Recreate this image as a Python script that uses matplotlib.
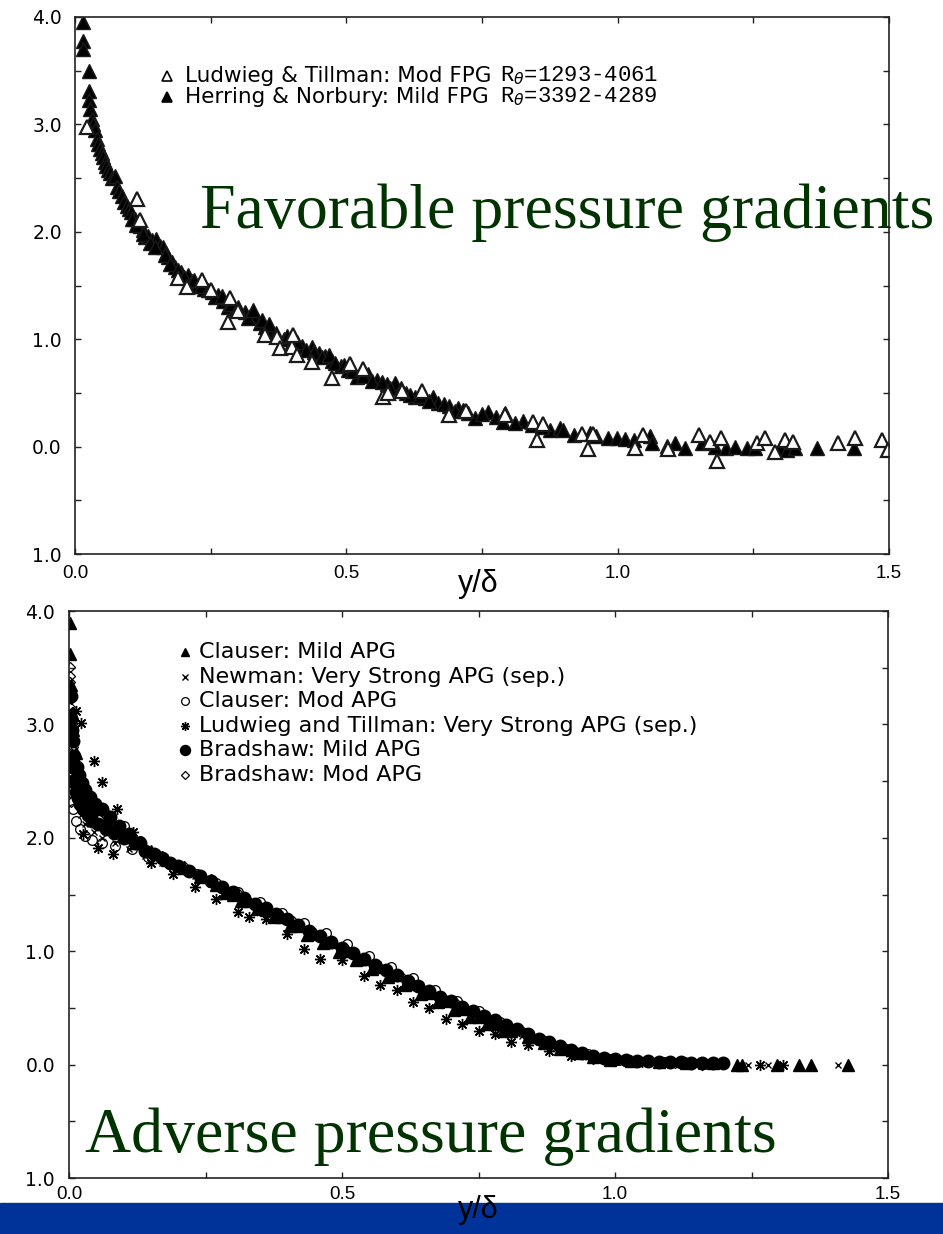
import numpy as np
import matplotlib.pyplot as plt
from matplotlib.patches import Rectangle

# ---- top panel: favorable pressure gradients ----
lt_fpg_x = [0.023, 0.114, 0.120, 0.190, 0.206, 0.234, 0.250, 0.286, 0.282, 0.300,
            0.350, 0.372, 0.378, 0.400, 0.402, 0.410, 0.437, 0.474, 0.507, 0.530,
            0.567, 0.577, 0.603, 0.640, 0.690, 0.720, 0.792, 0.844, 0.862, 0.851,
            0.934, 0.945, 0.955, 1.032, 1.047, 1.093, 1.150, 1.170, 1.183, 1.190,
            1.257, 1.271, 1.290, 1.308, 1.323, 1.406, 1.437, 1.487, 1.498]
lt_fpg_y = [2.98, 2.31, 2.11, 1.57, 1.49, 1.55, 1.46, 1.38, 1.16, 1.26,
            1.04, 1.02, 0.92, 0.93, 1.04, 0.85, 0.79, 0.64, 0.77, 0.72,
            0.46, 0.50, 0.52, 0.52, 0.29, 0.33, 0.29, 0.23, 0.21, 0.06,
            0.12, -0.02, 0.12, -0.01, 0.11, -0.02, 0.11, 0.04, -0.13, 0.08,
            0.03, 0.08, -0.05, 0.06, 0.04, 0.03, 0.08, 0.06, -0.03]

hn_fpg_x = [0.014, 0.014, 0.014, 0.025, 0.025, 0.026, 0.028, 0.031, 0.034, 0.037,
            0.040, 0.043, 0.046, 0.049, 0.052, 0.055, 0.058, 0.061, 0.064, 0.069,
            0.074, 0.077, 0.082, 0.086, 0.090, 0.095, 0.099, 0.104, 0.110, 0.115,
            0.120, 0.126, 0.129, 0.135, 0.142, 0.150, 0.156, 0.162, 0.168, 0.171,
            0.178, 0.184, 0.195, 0.208, 0.215, 0.225, 0.238, 0.252, 0.264, 0.272,
            0.282, 0.295, 0.313, 0.322, 0.332, 0.340, 0.350, 0.362, 0.385, 0.400,
            0.418, 0.437, 0.450, 0.460, 0.474, 0.490, 0.503, 0.520, 0.540, 0.556,
            0.575, 0.590, 0.610, 0.627, 0.645, 0.660, 0.669, 0.690, 0.706, 0.725,
            0.737, 0.761, 0.775, 0.792, 0.789, 0.826, 0.842, 0.875, 0.894, 0.900,
            0.949, 0.982, 0.998, 1.013, 1.060, 1.063, 1.090, 1.105, 1.124, 1.155,
            1.179, 1.200, 1.216, 1.238, 1.253, 1.299, 1.312, 1.327, 1.367, 1.435,
            0.105, 0.113, 0.125, 0.138, 0.147, 0.165, 0.175, 0.190, 0.200, 0.220,
            0.232, 0.245, 0.258, 0.270, 0.288, 0.300, 0.318, 0.328, 0.345, 0.357,
            0.370, 0.390, 0.410, 0.425, 0.440, 0.455, 0.468, 0.480, 0.495, 0.510,
            0.530, 0.548, 0.565, 0.580, 0.600, 0.618, 0.635, 0.653, 0.680, 0.700,
            0.715, 0.750, 0.810, 0.860, 0.920, 0.960, 1.030]
hn_fpg_y = [3.95, 3.78, 3.70, 3.50, 3.31, 3.23, 3.14, 3.05, 3.00, 2.95,
            2.86, 2.82, 2.77, 2.73, 2.70, 2.65, 2.61, 2.58, 2.55, 2.50,
            2.52, 2.42, 2.38, 2.33, 2.28, 2.24, 2.21, 2.18, 2.12, 2.08,
            2.05, 2.02, 1.95, 1.96, 1.92, 1.93, 1.87, 1.86, 1.80, 1.77,
            1.72, 1.67, 1.63, 1.60, 1.54, 1.50, 1.47, 1.44, 1.41, 1.36,
            1.30, 1.28, 1.25, 1.22, 1.21, 1.15, 1.11, 1.08, 1.00, 0.97,
            0.94, 0.93, 0.87, 0.84, 0.80, 0.75, 0.71, 0.65, 0.68, 0.62,
            0.58, 0.59, 0.50, 0.46, 0.45, 0.46, 0.41, 0.38, 0.36, 0.31,
            0.27, 0.32, 0.28, 0.31, 0.23, 0.24, 0.20, 0.15, 0.17, 0.15,
            0.13, 0.08, 0.08, 0.07, 0.10, 0.03, 0.01, 0.03, -0.01, 0.03,
            0.00, -0.01, 0.00, -0.01, -0.01, -0.01, -0.03, -0.01, -0.01, -0.01,
            2.12, 2.06, 1.98, 1.90, 1.86, 1.78, 1.70, 1.64, 1.58, 1.55,
            1.50, 1.46, 1.39, 1.40, 1.33, 1.30, 1.20, 1.27, 1.18, 1.14,
            1.06, 1.03, 0.97, 0.90, 0.88, 0.83, 0.85, 0.78, 0.76, 0.70,
            0.66, 0.61, 0.60, 0.55, 0.55, 0.48, 0.47, 0.42, 0.40, 0.33,
            0.34, 0.30, 0.22, 0.18, 0.11, 0.10, 0.06]

# ---- bottom panel: adverse pressure gradients ----
cl_mild_x = [0.002, 0.002, 0.004, 0.006, 0.008, 0.012, 0.018, 0.025, 0.035, 0.05,
             0.07, 0.09, 0.12, 0.15, 0.18, 0.21, 0.24, 0.27, 0.30, 0.33,
             0.36, 0.39, 0.42, 0.45, 0.48, 0.51, 0.54, 0.57, 0.60, 0.63,
             0.66, 0.69, 0.72, 0.75, 0.78, 0.81, 0.84, 0.87, 0.90, 0.93,
             0.96, 0.99, 1.03, 1.08, 1.13, 1.18, 1.223, 1.232, 1.296, 1.337,
             1.359, 1.427, 0.285, 0.315, 0.345, 0.375, 0.405, 0.435, 0.465, 0.495,
             0.525, 0.555, 0.585, 0.615, 0.645, 0.675, 0.705, 0.735, 0.765, 0.795]
cl_mild_y = [3.89, 3.62, 3.35, 3.10, 2.95, 2.75, 2.60, 2.48, 2.38, 2.25,
             2.15, 2.08, 1.95, 1.88, 1.80, 1.73, 1.65, 1.58, 1.50, 1.44,
             1.36, 1.30, 1.22, 1.15, 1.08, 1.00, 0.93, 0.86, 0.79, 0.71,
             0.63, 0.56, 0.49, 0.42, 0.36, 0.30, 0.24, 0.19, 0.14, 0.10,
             0.07, 0.04, 0.03, 0.02, 0.01, 0.01, 0.00, 0.00, 0.00, 0.00,
             0.00, 0.00, 1.51, 1.44, 1.37, 1.30, 1.22, 1.14, 1.07, 0.99,
             0.92, 0.84, 0.77, 0.70, 0.62, 0.55, 0.48, 0.42, 0.36, 0.30]

newman_x = [0.003, 0.006, 0.01, 0.015, 0.022, 0.03, 0.045, 0.06, 0.085, 0.11,
            0.14, 0.17, 0.20, 0.23, 0.26, 0.29, 0.32, 0.35, 0.38, 0.41,
            0.44, 0.47, 0.50, 0.53, 0.56, 0.59, 0.62, 0.65, 0.68, 0.71,
            0.74, 0.77, 0.80, 0.83, 0.86, 0.89, 0.92, 0.95, 0.98, 1.02,
            1.06, 1.10, 1.15, 1.20, 1.244, 1.28, 1.408,
            0.004, 0.008, 0.012, 0.018, 0.026, 0.036, 0.052, 0.07]
newman_y = [3.00, 2.70, 2.45, 2.30, 2.20, 2.12, 2.05, 2.00, 1.95, 1.90,
            1.84, 1.78, 1.72, 1.66, 1.59, 1.52, 1.45, 1.38, 1.30, 1.23,
            1.16, 1.08, 1.00, 0.93, 0.86, 0.78, 0.71, 0.64, 0.57, 0.50,
            0.44, 0.37, 0.31, 0.25, 0.20, 0.15, 0.11, 0.07, 0.05, 0.03,
            0.02, 0.01, 0.01, 0.00, 0.00, 0.00, 0.00,
            2.85, 2.55, 2.40, 2.62, 2.50, 2.35, 2.28, 2.20]

cl_mod_x = [0.002, 0.005, 0.01, 0.016, 0.024, 0.035, 0.05, 0.07, 0.10, 0.13,
            0.16, 0.20, 0.234, 0.27, 0.31, 0.35, 0.39, 0.43, 0.47, 0.51,
            0.55, 0.59, 0.63, 0.67, 0.71, 0.75, 0.79, 0.83, 0.87, 0.91,
            0.95, 0.99, 1.04, 1.09, 1.14,
            0.003, 0.007, 0.013, 0.02, 0.03, 0.042, 0.06, 0.085, 0.115, 0.145]
cl_mod_y = [3.30, 2.95, 2.70, 2.55, 2.45, 2.35, 2.30, 2.20, 2.10, 1.97,
            1.86, 1.76, 1.68, 1.60, 1.52, 1.43, 1.34, 1.25, 1.16, 1.06,
            0.96, 0.86, 0.76, 0.66, 0.56, 0.47, 0.38, 0.29, 0.21, 0.14,
            0.09, 0.05, 0.03, 0.02, 0.01,
            2.40, 2.25, 2.15, 2.08, 2.02, 1.98, 1.95, 1.93, 1.90, 1.83]

lt_apg_x = [0.013, 0.022, 0.026, 0.045, 0.054, 0.06, 0.08, 0.087, 0.117, 0.15,
            0.19, 0.23, 0.27, 0.31, 0.33, 0.36, 0.40, 0.43, 0.46, 0.50,
            0.54, 0.57, 0.60, 0.63, 0.66, 0.69, 0.72, 0.75, 0.78, 0.81,
            0.84, 0.88, 0.92, 0.96, 1.00, 1.05, 1.10, 1.16, 1.266, 1.308]
lt_apg_y = [3.12, 3.01, 2.03, 2.68, 1.91, 2.49, 1.86, 2.25, 2.05, 1.78,
            1.68, 1.57, 1.46, 1.35, 1.30, 1.28, 1.15, 1.02, 0.93, 0.92,
            0.78, 0.70, 0.66, 0.55, 0.50, 0.40, 0.36, 0.30, 0.27, 0.20,
            0.17, 0.12, 0.08, 0.05, 0.03, 0.02, 0.01, 0.00, 0.00, 0.00]

br_mild_x = [0.003, 0.004, 0.005, 0.006, 0.007, 0.008, 0.010, 0.012, 0.014, 0.016,
             0.018, 0.020, 0.023, 0.026, 0.030, 0.034, 0.038, 0.043, 0.048, 0.054,
             0.060, 0.067, 0.075, 0.083, 0.092, 0.100, 0.110, 0.120, 0.130, 0.140,
             0.155, 0.170, 0.185, 0.200, 0.220, 0.240, 0.260, 0.280, 0.300, 0.320,
             0.340, 0.360, 0.380, 0.400, 0.420, 0.440, 0.460, 0.480, 0.500, 0.520,
             0.540, 0.560, 0.580, 0.600, 0.620, 0.640, 0.660, 0.680, 0.700, 0.720,
             0.740, 0.760, 0.780, 0.800, 0.820, 0.840, 0.860, 0.880, 0.900, 0.920,
             0.940, 0.960, 0.980, 1.000, 1.020, 1.040, 1.060, 1.080, 1.100, 1.120,
             1.140, 1.160, 1.180, 1.198]
br_mild_y = [3.25, 3.05, 2.95, 2.62, 2.85, 2.50, 2.72, 2.40, 2.62, 2.35,
             2.55, 2.30, 2.48, 2.25, 2.42, 2.20, 2.36, 2.15, 2.30, 2.12,
             2.25, 2.08, 2.18, 2.04, 2.10, 2.00, 2.03, 1.95, 1.95, 1.88,
             1.86, 1.82, 1.78, 1.75, 1.71, 1.66, 1.62, 1.57, 1.52, 1.47,
             1.42, 1.38, 1.33, 1.28, 1.23, 1.18, 1.13, 1.08, 1.03, 0.98,
             0.93, 0.88, 0.83, 0.79, 0.74, 0.69, 0.65, 0.60, 0.56, 0.51,
             0.47, 0.43, 0.39, 0.35, 0.31, 0.27, 0.23, 0.20, 0.16, 0.13,
             0.10, 0.08, 0.06, 0.05, 0.04, 0.03, 0.03, 0.02, 0.02, 0.02,
             0.01, 0.01, 0.01, 0.01]

br_mod_x = [0.002, 0.002, 0.002, 0.003, 0.003, 0.004, 0.005, 0.006, 0.008, 0.01,
            0.013, 0.017, 0.022, 0.03, 0.04, 0.055, 0.075, 0.10, 0.13, 0.17,
            0.21, 0.26, 0.31, 0.36, 0.41, 0.46, 0.51, 0.56, 0.61, 0.66,
            0.71, 0.76, 0.81, 0.86, 0.91, 0.96, 1.01, 1.06, 1.11, 1.16,
            1.198, 0.002, 0.002, 0.003, 0.003, 0.004, 0.004]
br_mod_y = [3.51, 3.43, 3.37, 3.30, 3.22, 3.10, 3.00, 2.90, 2.80, 2.70,
            2.60, 2.50, 2.40, 2.32, 2.25, 2.17, 2.10, 2.02, 1.93, 1.84,
            1.75, 1.64, 1.51, 1.39, 1.27, 1.14, 1.01, 0.89, 0.77, 0.65,
            0.53, 0.42, 0.32, 0.22, 0.14, 0.08, 0.04, 0.02, 0.01, 0.01,
            0.01, 3.15, 2.95, 2.75, 2.58, 2.45, 2.32]

x_ticks = [0.0, 0.5, 1.0, 1.5]
x_tick_labels = ['0.0', '0.5', '1.0', '1.5']
y_ticks = [-1, 0, 1, 2, 3, 4]
y_tick_labels = ['1.0', '0.0', '1.0', '2.0', '3.0', '4.0']

W, H = 943, 1234
GREEN = '#003300'


def box(left, top, right, bottom):
    # pixel box -> figure fraction
    return [left / W, 1 - bottom / H, (right - left) / W, (bottom - top) / H]


def style(ax, ypad, xpad):
    ax.set_xlim(0, 1.5)
    ax.set_ylim(-1, 4)
    ax.set_xticks(x_ticks)
    ax.set_xticklabels(x_tick_labels, family='Liberation Sans', fontsize=13.5)
    ax.set_xticks([0.25, 0.75, 1.25], minor=True)
    ax.set_yticks(y_ticks)
    ax.set_yticklabels(y_tick_labels, family='DejaVu Sans', fontsize=13.5)
    ax.set_yticks([-0.5, 0.5, 1.5, 2.5, 3.5], minor=True)
    ax.tick_params(which='both', direction='in', top=True, right=True,
                   length=4.5, width=1, color='#222222')
    ax.tick_params(axis='y', pad=ypad)
    ax.tick_params(axis='x', pad=xpad)
    for s in ax.spines.values():
        s.set_linewidth(1.2)
        s.set_color('#222222')


fig = plt.figure(figsize=(W / 100, H / 100), dpi=100)
fig.patches.append(Rectangle((0, 0), 1, (H - 1203) / H, transform=fig.transFigure,
                             color='#003399', zorder=0))

# top panel
ax1 = fig.add_axes(box(75, 17, 889, 554))
style(ax1, 9.5, 8)
ax1.plot(hn_fpg_x, hn_fpg_y, ls='none', marker='^', ms=10, color='black', mec='#1a1a1a')
ax1.plot(lt_fpg_x, lt_fpg_y, ls='none', marker='^', ms=10, mfc='white', mec='#1a1a1a', mew=1.6)

top_leg = [('^', 'white', 'Ludwieg & Tillman: Mod FPG', r'R$_\theta$=1293-4061'),
           ('^', 'black', 'Herring & Norbury: Mild FPG', r'R$_\theta$=3392-4289')]
for i, (m, fc, lab, re) in enumerate(top_leg):
    yy = 76 + 21 * i
    ax1.plot([(167 - 75) / 814], [1 - (yy - 17) / 537], transform=ax1.transAxes,
             marker=m, ms=7, mfc=fc, mec='black', mew=1.2, clip_on=False)
    fig.text(185 / W, 1 - yy / H, lab, family='DejaVu Sans', fontsize=15.5, va='center')
    fig.text(500 / W, 1 - yy / H, re, family='Liberation Mono', fontsize=16, va='center')

fig.text(200 / W, 1 - 228 / H, 'Favorable pressure gradients', family='Liberation Serif',
         fontsize=46, color=GREEN, va='baseline')
fig.text(478 / W, 1 - 584 / H, 'y/δ', family='Liberation Sans', fontsize=22,
         ha='center', va='center')

# bottom panel
ax2 = fig.add_axes(box(69, 611, 888, 1178))
style(ax2, 10, 6)
bottom_series = [
    (cl_mild_x, cl_mild_y, dict(marker='^', ms=8, color='black'), 'Clauser: Mild APG'),
    (newman_x, newman_y, dict(marker='x', ms=5, color='black', mew=1), 'Newman: Very Strong APG (sep.)'),
    (cl_mod_x, cl_mod_y, dict(marker='o', ms=7, mfc='none', mec='black', mew=0.9), 'Clauser: Mod APG'),
    (lt_apg_x, lt_apg_y, dict(marker=(8, 2, 0), ms=8, color='black', mew=1), 'Ludwieg and Tillman: Very Strong APG (sep.)'),
    (br_mild_x, br_mild_y, dict(marker='o', ms=9, color='black'), 'Bradshaw: Mild APG'),
    (br_mod_x, br_mod_y, dict(marker='D', ms=5, mfc='none', mec='black', mew=0.9), 'Bradshaw: Mod APG'),
]
for i, (xs, ys, kw, lab) in enumerate(bottom_series):
    ax2.plot(xs, ys, ls='none', **kw)
    yy = 652 + 24.6 * i
    kw_leg = dict(kw)
    kw_leg['ms'] = kw['ms'] * 0.8
    ax2.plot([(185 - 69) / 819], [1 - (yy - 611) / 567], transform=ax2.transAxes,
             ls='none', clip_on=False, **kw_leg)
    fig.text(199 / W, 1 - yy / H, lab, family='DejaVu Sans', fontsize=16, va='center')

fig.text(85 / W, 1 - 1152 / H, 'Adverse pressure gradients', family='Liberation Serif',
         fontsize=46, color=GREEN, va='baseline')
fig.text(478 / W, 1 - 1210 / H, 'y/δ', family='Liberation Sans', fontsize=22,
         ha='center', va='center', zorder=5)

fig.savefig('out.png', dpi=100)
